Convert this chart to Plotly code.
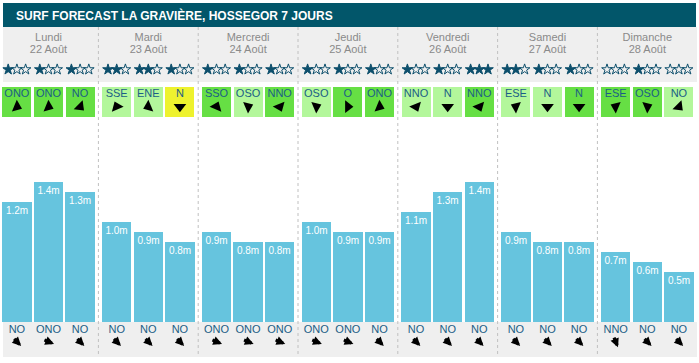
import math
import plotly.graph_objects as go

# ---------------- data ----------------
days = ["Lundi", "Mardi", "Mercredi", "Jeudi", "Vendredi", "Samedi", "Dimanche"]
dates = ["22 Août", "23 Août", "24 Août", "25 Août", "26 Août", "27 Août", "28 Août"]
heights = [1.2, 1.4, 1.3, 1.0, 0.9, 0.8, 0.9, 0.8, 0.8, 1.0, 0.9, 0.9,
           1.1, 1.3, 1.4, 0.9, 0.8, 0.8, 0.7, 0.6, 0.5]
stars = [1, 1, 1, 2, 2, 1, 1, 1, 1, 1, 1, 1, 1, 1, 3, 2, 1, 1, 0, 1, 0]
wind_dir = ["ONO", "ONO", "NO", "SSE", "ENE", "N", "SSO", "OSO", "NNO",
            "OSO", "O", "ONO", "NNO", "N", "NNO", "ESE", "N", "N",
            "ESE", "OSO", "NO"]
wind_quality = ["good", "good", "good", "fair", "fair", "cross",
                "good", "fair", "good", "fair", "good", "good",
                "fair", "fair", "good", "fair", "fair", "good",
                "good", "good", "fair"]
swell_dir = ["NO", "ONO", "NO", "NO", "NO", "NO", "ONO", "ONO", "ONO",
             "ONO", "ONO", "NO", "NO", "NO", "NO", "NO", "NO", "NO",
             "NNO", "NO", "NO"]
title = "SURF FORECAST LA GRAVIÈRE, HOSSEGOR 7 JOURS"

# ---------------- geometry / style ----------------
W, H = 699, 363
DAY_W = 99.8          # px per day
X0 = 48.5             # px centre of first day
BASE_PX = 322         # px of bar baseline
PX_PER_M = 100.0
SLOT = 31.6 / DAY_W

compass = {"N": 0, "NNE": 22.5, "NE": 45, "ENE": 67.5, "E": 90, "ESE": 112.5,
           "SE": 135, "SSE": 157.5, "S": 180, "SSO": 202.5, "SO": 225,
           "OSO": 247.5, "O": 270, "ONO": 292.5, "NO": 315, "NNO": 337.5}
qcolors = {"good": "#66df44", "fair": "#b3f79b", "cross": "#eef22e"}

FONT = "Liberation Sans, Arial, sans-serif"
TXT_BLUE = "#1b5e86"


def xp(p):
    return (p - X0) / DAY_W


def yp(p):
    return (BASE_PX - p) / PX_PER_M


n = len(heights)
slot_x = [i // 3 + (i % 3 - 1) * SLOT for i in range(n)]
day_x = list(range(len(days)))

fig = go.Figure()

# wind boxes (cells)
fig.add_trace(go.Bar(
    x=slot_x, y=[yp(87) - yp(117)] * n, base=yp(117), width=29 / DAY_W,
    marker=dict(color=[qcolors[q] for q in wind_quality], line=dict(width=0)),
    hoverinfo="skip", showlegend=False))

# wave height bars
fig.add_trace(go.Bar(
    x=slot_x, y=heights, width=29.5 / DAY_W,
    marker=dict(color="#66c4de", line=dict(width=0)),
    text=[f"{h:.1f}m" for h in heights], textposition="inside",
    insidetextanchor="end", constraintext="none",
    textfont=dict(color="white", size=10, family=FONT),
    hoverinfo="skip", showlegend=False))

# day names and dates
fig.add_trace(go.Scatter(
    x=day_x, y=[yp(38)] * len(days), mode="text", text=days,
    textfont=dict(color="#8a8a8a", size=11, family=FONT),
    hoverinfo="skip", showlegend=False))
fig.add_trace(go.Scatter(
    x=day_x, y=[yp(50.5)] * len(days), mode="text", text=dates,
    textfont=dict(color="#8a8a8a", size=11, family=FONT),
    hoverinfo="skip", showlegend=False))

# stars
sx, sy, ssym = [], [], []
for i in range(n):
    for k in range(3):
        sx.append(slot_x[i] + (k - 1) * 8.7 / DAY_W)
        sy.append(yp(69.5))
        ssym.append("star" if k < stars[i] else "star-open")
fig.add_trace(go.Scatter(
    x=sx, y=sy, mode="markers",
    marker=dict(symbol=ssym, size=8, color="#0d4f6c",
                line=dict(color="#0d4f6c", width=1)),
    hoverinfo="skip", showlegend=False))

# wind direction text and arrows
fig.add_trace(go.Scatter(
    x=slot_x, y=[yp(94.7)] * n, mode="text", text=wind_dir,
    textfont=dict(color=TXT_BLUE, size=11, family=FONT),
    hoverinfo="skip", showlegend=False))
fig.add_trace(go.Scatter(
    x=slot_x, y=[yp(106.7)] * n, mode="markers",
    marker=dict(symbol="triangle-up", size=11, color="black",
                angle=[(compass[d] + 180) % 360 for d in wind_dir],
                line=dict(width=0)),
    hoverinfo="skip", showlegend=False))

# swell direction text
fig.add_trace(go.Scatter(
    x=slot_x, y=[yp(330.3)] * n, mode="text", text=swell_dir,
    textfont=dict(color=TXT_BLUE, size=11, family=FONT),
    hoverinfo="skip", showlegend=False))

# swell arrows (annotations)
L = 12
cy = 341.7
for i in range(n):
    th = math.radians((compass[swell_dir[i]] + 180) % 360)
    dx, dy = math.sin(th), -math.cos(th)
    cx = X0 + slot_x[i] * DAY_W
    hx, hy = cx + dx * L / 2, cy + dy * L / 2
    fig.add_annotation(x=xp(hx), y=yp(hy), ax=-dx * L, ay=-dy * L,
                       xref="x", yref="y", axref="pixel", ayref="pixel",
                       text="", showarrow=True, arrowhead=2, arrowsize=0.55,
                       arrowwidth=3.2, arrowcolor="black", standoff=0)

# title
fig.add_annotation(x=xp(14), y=yp(15), xref="x", yref="y", text=title,
                   showarrow=False, xanchor="left", yanchor="middle",
                   font=dict(color="white", size=12, family=FONT, weight="bold"))

# backgrounds
shapes = [
    dict(type="rect", x0=xp(3), x1=xp(696), y0=yp(3), y1=yp(27),
         fillcolor="#02566a", line=dict(width=0), layer="below"),
    dict(type="rect", x0=xp(3), x1=xp(697), y0=yp(27), y1=yp(82),
         fillcolor="#efefef", line=dict(width=0), layer="below"),
    dict(type="rect", x0=xp(3), x1=xp(697), y0=yp(322), y1=yp(357),
         fillcolor="#efefef", line=dict(width=0), layer="below"),
]
for d in range(1, len(days)):
    sxp = X0 + (d - 0.5) * DAY_W
    shapes.append(dict(type="line", x0=xp(sxp), x1=xp(sxp), y0=yp(27), y1=yp(357),
                       line=dict(color="#c0c0c0", width=1, dash="3px,3px"),
                       layer="below"))

fig.update_layout(
    width=W, height=H, autosize=False,
    margin=dict(l=0, r=0, t=0, b=0, pad=0),
    paper_bgcolor="white", plot_bgcolor="white",
    barmode="overlay", bargap=0,
    shapes=shapes,
    xaxis=dict(range=[xp(0), xp(W)], visible=False, fixedrange=True),
    yaxis=dict(range=[yp(H), yp(0)], visible=False, fixedrange=True),
    showlegend=False,
)

fig.write_html("out.html", config={"displayModeBar": False},
               post_script="document.body.style.margin='0px';"
                           "document.body.style.overflow='hidden';")
